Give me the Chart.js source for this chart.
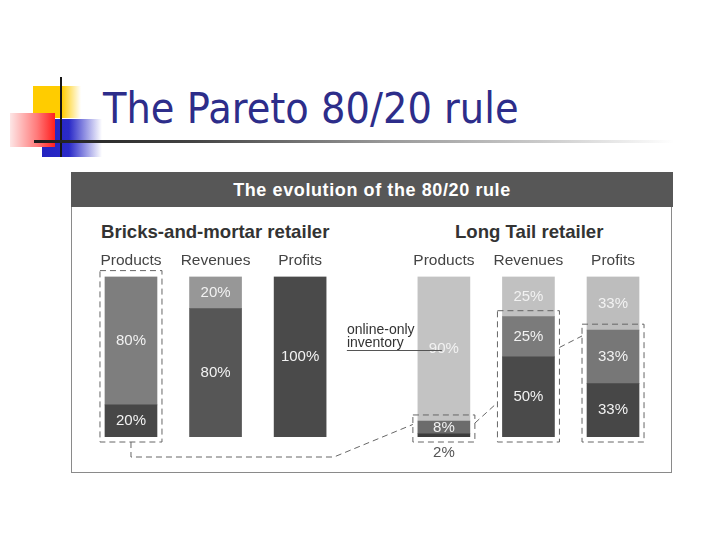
<!DOCTYPE html>
<html>
<head>
<meta charset="utf-8">
<title>The Pareto 80/20 rule</title>
<script src="https://cdn.jsdelivr.net/npm/chart.js@4.4.1/dist/chart.umd.min.js"></script>
<style>
  body { margin: 0; width: 720px; height: 540px; position: relative; overflow: hidden; background: #fff; font-family: "Liberation Sans", Arial, sans-serif; }
  .deco { position: absolute; }
  #yellow { left: 33px; top: 86px; width: 48px; height: 32px; background: linear-gradient(to right, #ffcc00 0%, #ffcc00 60%, rgba(255,220,120,0) 100%); }
  #blue { left: 42px; top: 119px; width: 60px; height: 38px; background: linear-gradient(to right, #2323c0 0%, #2a2ac8 45%, rgba(60,60,220,0) 100%); }
  #red { left: 10px; top: 113px; width: 45px; height: 34px; background: linear-gradient(to right, #fde6e6 0%, #ff7a7a 60%, #ff1e1e 100%); }
  #vline { left: 60px; top: 77px; width: 2px; height: 80px; background: #161616; }
  #hline { left: 34px; top: 140px; width: 640px; height: 3px; background: linear-gradient(to right, #1c1c1c 0%, #444 25%, #999 55%, #ccc 80%, rgba(230,230,230,0) 100%); }
  #title { position: absolute; left: 103px; top: 88px; font: 42px/42px "DejaVu Sans", Verdana, sans-serif; color: #2d2d8a; white-space: nowrap; transform: scaleX(0.915); transform-origin: 0 0; }
  #panel { position: absolute; left: 71px; top: 172px; width: 599px; height: 300px; border-left: 1px solid #8a8a8a; border-right: 1px solid #8a8a8a; border-bottom: 1px solid #8a8a8a; }
  #band { position: absolute; left: -1px; top: 0; width: 602px; height: 35px; background: #575757; color: #fff; font: bold 18px/36px "Liberation Sans", Arial, sans-serif; letter-spacing: 0.6px; text-align: center; }
  .sub { position: absolute; top: 49px; font: bold 18.6px "Liberation Sans", Arial, sans-serif; color: #333; white-space: nowrap; }
  canvas { position: absolute; left: 0; top: 0; }
</style>
</head>
<body>
<div class="deco" id="yellow"></div>
<div class="deco" id="blue"></div>
<div class="deco" id="red"></div>
<div class="deco" id="vline"></div>
<div class="deco" id="hline"></div>
<div id="title">The Pareto 80/20 rule</div>
<div id="panel">
  <div id="band"></div>
  <div class="sub" id="sub0" style="left:29px"></div>
  <div class="sub" id="sub1" style="left:383px"></div>
</div>
<canvas id="chart" width="720" height="540"></canvas>
<script>
// chart data
const chartTitle = "The evolution of the 80/20 rule";
const retailers = ["Bricks-and-mortar retailer", "Long Tail retailer"];
const metrics = ["Products", "Revenues", "Profits"];
// shares in %, bottom segment first
const bricksHits = [20, 80, 100];
const bricksRest = [80, 20, 0];
const tailHits = [2, 50, 33.3];
const tailMiddle = [8, 25, 33.3];
const tailOnline = [90, 25, 33.4];

document.getElementById("band").innerText = chartTitle;
document.getElementById("sub0").innerText = retailers[0];
document.getElementById("sub1").innerText = retailers[1];

// x slot of each bar: retailer group * groupStep + metric index
const groupStep = 3.7;
const slots = [];
const slotLabels = [];
retailers.forEach((r, g) => metrics.forEach((m, i) => {
  slots.push(g * groupStep + i);
  slotLabels.push(m);
}));

function toPoints(a, b) {
  return a.concat(b).map((v, i) => ({ x: slots[i], y: v || null }));
}

const hitsColors = ["#474747", "#565656", "#4a4a4a", "#3c3c3c", "#4a4a4a", "#474747"];
const middleColors = ["#777", "#777", "#777", "#6c6c6c", "#7b7b7b", "#777777"];
const topColors = ["#7e7e7e", "#979797", "#999", "#c3c3c3", "#c1c1c1", "#bdbdbd"];

const datasets = [
  { label: "hits", data: toPoints(bricksHits, tailHits), backgroundColor: hitsColors },
  { label: "middle", data: toPoints([null, null, null], tailMiddle), backgroundColor: middleColors },
  { label: "rest", data: toPoints(bricksRest, tailOnline), backgroundColor: topColors }
];

// percentages inside the bars
const segmentLabels = {
  id: "segmentLabels",
  afterDatasetsDraw(chart) {
    const ctx = chart.ctx;
    ctx.save();
    ctx.font = '15px "Liberation Sans", Arial, sans-serif';
    ctx.textAlign = "center";
    ctx.textBaseline = "middle";
    chart.data.datasets.forEach((ds, di) => {
      chart.getDatasetMeta(di).data.forEach((bar, i) => {
        const v = ds.data[i].y;
        if (!v) return;
        const txt = Math.round(v) + "%";
        if (v < 5) {
          ctx.fillStyle = "#555";
          ctx.fillText(txt, bar.x, bar.base + 16);
        } else {
          ctx.fillStyle = "#f2f2f2";
          ctx.fillText(txt, bar.x, (bar.y + bar.base) / 2);
        }
      });
    });
    ctx.restore();
  }
};

// dashed boxes and connectors, online-only note
const annotations = {
  id: "annotations",
  afterDatasetsDraw(chart) {
    const ctx = chart.ctx;
    const hits = chart.getDatasetMeta(0).data;
    const mid = chart.getDatasetMeta(1).data;
    const rest = chart.getDatasetMeta(2).data;
    const box = (i, topBar) => {
      const b = hits[i];
      const w = b.width;
      return { left: b.x - w / 2 - 5, right: b.x + w / 2 + 5, top: topBar.y - 6, bottom: b.base + 5, cx: b.x };
    };
    const boxes = [box(0, rest[0]), box(3, mid[3]), box(4, mid[4]), box(5, mid[5])];
    const at = (bx, f) => bx.top + (bx.bottom - bx.top) * f;

    ctx.save();
    ctx.strokeStyle = "#666";
    ctx.lineWidth = 1;
    ctx.setLineDash([6, 4]);
    boxes.forEach(bx => ctx.strokeRect(bx.left, bx.top, bx.right - bx.left, bx.bottom - bx.top));

    const b0 = boxes[0], b1 = boxes[1], b2 = boxes[2], b3 = boxes[3];
    const xTurn = chart.scales.x.getPixelForValue(2.4);
    ctx.beginPath();
    ctx.moveTo(b0.cx, b0.bottom);
    ctx.lineTo(b0.cx, b0.bottom + 15);
    ctx.lineTo(xTurn, b0.bottom + 15);
    ctx.lineTo(b1.left, at(b1, 0.35));
    ctx.moveTo(b1.right, at(b1, 0.3));
    ctx.lineTo(b2.left, at(b2, 0.7));
    ctx.moveTo(b2.right, at(b2, 0.28));
    ctx.lineTo(b3.left, at(b3, 0.1));
    ctx.stroke();

    // online-only inventory note
    const p = rest[3];
    const noteX = p.x - p.width / 2 - 71;
    ctx.setLineDash([]);
    ctx.fillStyle = "#333";
    ctx.font = '14px "Liberation Sans", Arial, sans-serif';
    ctx.textAlign = "left";
    ctx.textBaseline = "middle";
    ctx.fillText("online-only", noteX, 330);
    ctx.fillText("inventory", noteX, 343);
    ctx.strokeStyle = "#555";
    ctx.beginPath();
    ctx.moveTo(noteX, 350.5);
    ctx.lineTo(p.x - 2, 350.5);
    ctx.stroke();
    ctx.restore();
  }
};

new Chart(document.getElementById("chart").getContext("2d"), {
  type: "bar",
  data: { datasets: datasets },
  options: {
    responsive: false,
    animation: false,
    barThickness: 52,
    layout: { padding: { left: 88.7, right: 64.7, top: 244, bottom: 103 } },
    plugins: { legend: { display: false }, tooltip: { enabled: false } },
    scales: {
      x: {
        type: "linear",
        position: "top",
        offset: false,
        min: -0.5,
        max: 6.2,
        stacked: true,
        grid: { display: false, drawTicks: false },
        border: { display: false },
        afterBuildTicks: axis => { axis.ticks = slots.map(v => ({ value: v })); },
        ticks: {
          autoSkip: false,
          maxRotation: 0,
          padding: 7,
          color: "#444",
          font: { family: '"Liberation Sans", Arial, sans-serif', size: 15.5 },
          callback: value => slotLabels[slots.indexOf(value)]
        }
      },
      y: { stacked: true, min: 0, max: 100, display: false }
    }
  },
  plugins: [segmentLabels, annotations]
});
</script>
</body>
</html>
